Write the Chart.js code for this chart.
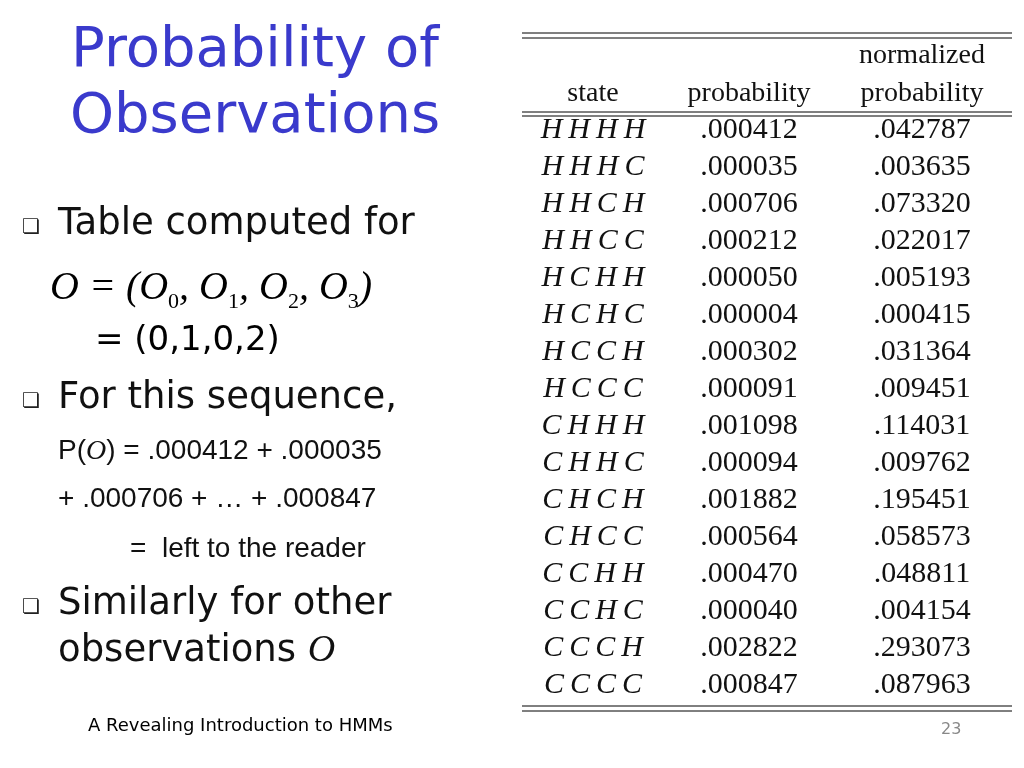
<!DOCTYPE html>
<html>
<head>
<meta charset="utf-8">
<script src="https://cdn.jsdelivr.net/npm/chart.js@4"></script>
<style>
  body { margin: 0; width: 1024px; height: 768px; background: #fff; position: relative; overflow: hidden; font-family: "DejaVu Sans", sans-serif; }
  #c { position: absolute; left: 0; top: 0; }
  .t { position: absolute; white-space: nowrap; }
  .title { color: #3a3acc; font-size: 56px; line-height: 66px; text-align: center; left: 40px; width: 430px; top: 14px; }
  .bul { font-size: 37px; color: #111; }
  .mk::before { content: "\274F"; font-size: 20px; position: absolute; left: -36px; top: 14px; color: #222; }
  .ar { font-family: "Liberation Sans", Arial, sans-serif; font-size: 28px; color: #111; }
  .cal { font-family: "Liberation Serif", serif; font-style: italic; }
</style>
</head>
<body>
<canvas id="c" width="1024" height="768"></canvas>
<div class="t title">Probability of<br>Observations</div>
<div class="t bul mk" style="left:58px;top:200px">Table computed for</div>
<div class="t cal" style="left:50px;top:262px;font-size:40px">O = (O<sub style="font-size:22px;font-style:normal">0</sub>, O<sub style="font-size:22px;font-style:normal">1</sub>, O<sub style="font-size:22px;font-style:normal">2</sub>, O<sub style="font-size:22px;font-style:normal">3</sub>)</div>
<div class="t" style="left:95px;top:318px;font-size:34px">= (0,1,0,2)</div>
<div class="t bul mk" style="left:58px;top:374px">For this sequence,</div>
<div class="t ar" style="left:58px;top:434px">P(<span class="cal">O</span>) = .000412 + .000035</div>
<div class="t ar" style="left:58px;top:482px">+ .000706 + … + .000847</div>
<div class="t ar" style="left:130px;top:532px">=&nbsp; left to the reader</div>
<div class="t bul mk" style="left:58px;top:580px">Similarly for other</div>
<div class="t bul" style="left:58px;top:626px">observations <span class="cal" style="font-size:38px">O</span></div>
<div class="t" style="left:88px;top:714px;font-size:18px">A Revealing Introduction to HMMs</div>
<div class="t" style="left:941px;top:719px;font-size:16px;color:#888">23</div>
<script>
const states = ['HHHH','HHHC','HHCH','HHCC','HCHH','HCHC','HCCH','HCCC','CHHH','CHHC','CHCH','CHCC','CCHH','CCHC','CCCH','CCCC'];
const probability = ['.000412','.000035','.000706','.000212','.000050','.000004','.000302','.000091','.001098','.000094','.001882','.000564','.000470','.000040','.002822','.000847'];
const normalized = ['.042787','.003635','.073320','.022017','.005193','.000415','.031364','.009451','.114031','.009762','.195451','.058573','.048811','.004154','.293073','.087963'];

const tablePlugin = {
  id: 'table',
  afterDraw(chart) {
    const ctx = chart.ctx, y = chart.scales.y, x = chart.scales.x, a = chart.chartArea;
    const cols = [x.getPixelForValue(71), x.getPixelForValue(227), x.getPixelForValue(400)];
    ctx.save();
    ctx.strokeStyle = '#000';
    ctx.lineWidth = 1;
    const hline = (yy) => { ctx.beginPath(); ctx.moveTo(a.left, yy); ctx.lineTo(a.right, yy); ctx.stroke(); };
    hline(33); hline(38); hline(112); hline(116); hline(706); hline(711);
    ctx.fillStyle = '#111';
    ctx.textAlign = 'center';
    ctx.textBaseline = 'middle';
    ctx.font = '28px "Liberation Serif", serif';
    ctx.fillText('normalized', cols[2], 56);
    ctx.fillText('state', cols[0], 94);
    ctx.fillText('probability', cols[1], 94);
    ctx.fillText('probability', cols[2], 94);
    states.forEach((s, i) => {
      const py = y.getPixelForValue(i) + 1;
      ctx.font = 'italic 30px "Liberation Serif", serif';
      ctx.fillText(s.split('').join('\u2009'), cols[0], py);
      ctx.font = '30px "Liberation Serif", serif';
      ctx.fillText(probability[i], cols[1], py);
      ctx.fillText(normalized[i], cols[2], py);
    });
    ctx.restore();
  }
};

new Chart(document.getElementById('c'), {
  type: 'scatter',
  data: { labels: states, datasets: [{ data: [] }] },
  options: {
    responsive: false,
    animation: false,
    layout: { padding: { left: 522, right: 12, top: 111, bottom: 65 } },
    plugins: { legend: { display: false }, tooltip: { enabled: false } },
    scales: {
      x: { type: 'linear', min: 0, max: 490, display: false },
      y: { type: 'category', labels: states, offset: true, display: false }
    }
  },
  plugins: [tablePlugin]
});
</script>
</body>
</html>
